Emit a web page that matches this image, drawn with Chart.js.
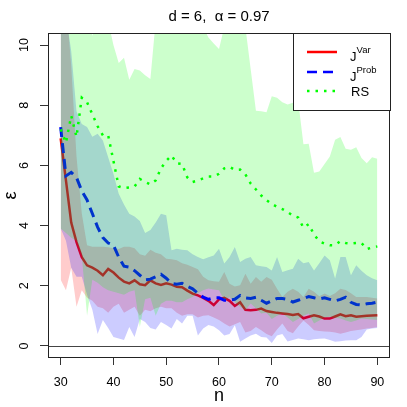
<!DOCTYPE html>
<html>
<head>
<meta charset="utf-8">
<script src="https://cdn.jsdelivr.net/npm/chart.js@4.4.1/dist/chart.umd.min.js"></script>
<style>
  html, body { margin: 0; padding: 0; background: #fff; }
  canvas { display: block; }
</style>
</head>
<body>
<canvas id="chart" width="407" height="407"></canvas>
<script>
// sample sizes n
const nValues = [30, 31, 32, 33, 34, 35, 36, 37, 38, 39,
                 40, 41, 42, 43, 44, 45, 46, 47, 48, 49,
                 50, 51, 52, 53, 54, 55, 56, 57, 58, 59,
                 60, 61, 62, 63, 64, 65, 66, 67, 68, 69,
                 70, 71, 72, 73, 74, 75, 76, 77, 78, 79,
                 80, 81, 82, 83, 84, 85, 86, 87, 88, 89, 90];

// J^Var: mean line + band
const jVar = [6.9, 5.5, 4.1, 3.45, 2.95, 2.68, 2.6, 2.5, 2.35, 2.56,
              2.44, 2.27, 2.14, 2.08, 2.18, 2.05, 2.02, 2.18, 2.08, 2.03,
              2.08, 2.04, 1.97, 1.95, 1.84, 1.74, 1.68, 1.6, 1.5, 1.36,
              1.55, 1.6, 1.5, 1.33, 1.45, 1.2, 1.19, 1.2, 1.24, 1.16,
              1.13, 1.1, 1.08, 1.06, 1.03, 1.06, 0.92, 0.97, 1.02, 0.98,
              0.91, 0.91, 0.98, 1.05, 0.99, 1.02, 0.97, 0.99, 1.0, 1.01, 1.02];
const jVarHi = [12, 11.5, 9.3, 6.3, 4.4, 3.35, 3.3, 3.3, 3.3, 3.28,
                3.25, 3.22, 3.3, 3.3, 3.25, 3.05, 3.0, 3.2, 3.1, 3.05,
                2.9, 2.88, 2.85, 2.75, 2.7, 2.62, 2.55, 2.3, 2.18, 2.15,
                2.13, 2.46, 2.07, 1.98, 2.02, 2.4, 2.07, 2.29, 2.13, 2.29,
                2.2, 1.9, 1.63, 1.8, 1.9, 1.8, 1.63, 1.9, 1.8, 1.65,
                1.74, 1.66, 1.75, 1.9, 1.86, 1.75, 1.63, 1.63, 1.63, 1.6, 1.58];
const jVarLo = [2.2, 1.85, 2.6, 1.3, 1.85, 1.6, 1.5, 1.3, 1.25, 1.1,
                1.3, 1.4, 1.1, 1.2, 1.3, 1.0, 1.2, 1.15, 1.25, 1.3,
                1.25, 1.25, 1.1, 1.0, 1.05, 1.05, 0.95, 1.0, 1.02, 0.95,
                0.86, 0.75, 0.65, 0.72, 0.8, 0.45, 0.5, 0.63, 0.52, 0.4,
                0.32, 0.55, 0.75, 0.5, 0.42, 0.65, 0.85, 0.7, 0.52, 0.5,
                0.48, 0.47, 0.45, 0.41, 0.45, 0.5, 0.52, 0.55, 0.58, 0.6, 0.63];

// J^Prob
const jProb = [7.27, 5.65, 5.77, 5.6, 5.15, 4.85, 4.4, 3.95, 3.6, 3.42,
               3.35, 2.95, 2.65, 2.62, 2.5, 2.35, 2.2, 2.22, 2.3, 2.38,
               2.25, 2.08, 2.05, 2.08, 1.98, 1.9, 1.75, 1.62, 1.55, 1.6,
               1.6, 1.52, 1.52, 1.55, 1.68, 1.6, 1.58, 1.62, 1.52, 1.42,
               1.5, 1.58, 1.58, 1.55, 1.46, 1.52, 1.58, 1.64, 1.6, 1.56,
               1.6, 1.55, 1.5, 1.55, 1.62, 1.45, 1.38, 1.36, 1.4, 1.42, 1.46];
const jProbHi = [12, 11, 9.8, 7.8, 7.38, 7.28, 6.95, 7.05, 6.83, 6.27,
                 5.72, 5.06, 4.7, 4.39, 4.3, 4.15, 3.75, 3.85, 4.1, 4.39,
                 4.34, 3.18, 3.23, 3.2, 3.18, 3.05, 2.96, 2.88, 2.95, 3.01,
                 3.23, 2.74, 2.96, 3.29, 2.79, 2.9, 2.96, 2.68, 2.65, 2.62,
                 2.51, 2.96, 2.46, 2.52, 2.57, 2.9, 2.75, 2.79, 2.51, 2.75,
                 3.01, 2.85, 2.24, 2.96, 2.96, 2.35, 2.68, 2.5, 2.35, 2.25, 2.18];
const jProbLo = [3.9, 3.5, 2.6, 2.3, 2.3, 1.7, 1.2, 0.4, 0.86, 0.6,
                 0.3, 0.25, 0.2, 0.63, 0.3, 0.9, 0.8, 0.6, 0.55, 0.8,
                 0.7, 0.58, 0.9, 0.75, 1.0, 1.0, 0.35, 0.58, 0.7, 0.65,
                 0.52, 0.35, 0.4, 0.69, 0.14, 0.25, 0.35, 0.41, 0.3, 0.28,
                 0.1, 0.35, 0.4, 0.15, 0.2, 0.25, 0.22, 0.19, 0.22, 0.24,
                 0.25, 0.2, 0.14, 0.16, 0.18, 0.19, 0.19, 0.3, 0.55, 0.58, 0.6];

// RS
const rs = [7.2, 6.75, 7.65, 6.95, 8.25, 8.1, 7.7, 7.3, 7.0, 7.0,
            6.15, 5.3, 5.25, 5.27, 5.3, 5.55, 5.45, 5.37, 5.5, 5.9,
            6.15, 6.33, 6.07, 6.05, 5.6, 5.45, 5.5, 5.57, 5.63, 5.63,
            5.72, 5.9, 5.95, 5.85, 5.86, 5.7, 5.4, 5.2, 5.0, 4.85,
            4.72, 4.62, 4.55, 4.45, 4.33, 4.27, 3.93, 4.05, 3.7, 3.48,
            3.4, 3.35, 3.35, 3.48, 3.42, 3.4, 3.42, 3.42, 3.22, 3.27, 3.31];
const rsHi = [14, 13.5, 13, 12.5, 12, 11.5, 10.3, 11, 11.5, 10.8,
              10.0, 9.4, 9.58, 8.85, 9.2, 9.15, 9.0, 8.87, 10.8, 11.5,
              12, 12, 11.5, 11.5, 12, 11.5, 11, 10.6, 10.25, 10.05,
              9.87, 10.6, 11, 11.5, 11, 10.6, 9.2, 7.82, 7.8, 7.77,
              8.3, 8.25, 8.1, 8.02, 8.08, 8.15, 6.7, 6.72, 5.76, 5.8,
              6.05, 6.3, 6.85, 6.94, 6.55, 6.52, 6.6, 6.25, 6.07, 6.27, 6.22];
const rsLo = [3.9, 3.75, 3.6, 3.5, 3.0, 1.0, 2.2, 2.1, 1.95, 1.85,
              1.8, 1.75, 1.7, 1.8, 1.85, 0.63, 1.55, 1.6, 1.0, 1.4,
              1.5, 1.5, 1.45, 1.45, 1.55, 1.63, 1.75, 1.85, 1.91, 1.88,
              1.85, 1.52, 1.63, 1.45, 1.3, 1.19, 1.41, 1.25, 1.08, 1.1,
              0.9, 1.0, 1.08, 0.95, 0.8, 0.9, 1.0, 1.08, 0.75, 0.85,
              0.95, 0.97, 0.93, 0.91, 0.85, 0.8, 0.85, 0.91, 0.9, 0.88, 0.86];

const xTicks = [30, 40, 50, 60, 70, 80, 90];
const yTicks = [0, 2, 4, 6, 8, 10];

const FONT = "'Liberation Sans', Arimo, Arial, sans-serif";
Chart.defaults.font.family = FONT;

function pts(arr) {
    return nValues.map((n, i) => ({ x: n, y: arr[i] }));
}

// band = upper bound filled down to the next dataset (lower bound)
function band(hi, lo, color, order) {
    return [
        { data: pts(hi), fill: '+1', backgroundColor: color, borderColor: 'transparent',
          borderWidth: 0, pointRadius: 0, order: order },
        { data: pts(lo), fill: false, borderColor: 'transparent',
          borderWidth: 0, pointRadius: 0, order: order + 1 }
    ];
}

function line(arr, color, dash, width, order) {
    return { data: pts(arr), fill: false, borderColor: color, borderWidth: width,
             borderDash: dash, borderCapStyle: 'butt', pointRadius: 0, tension: 0, order: order };
}

// R-ish decorations: box, h=0 line, rotated y labels, titles, legend
const rDecor = {
    id: 'rDecor',
    afterDatasetsDraw(chart) {
        const ctx = chart.ctx, a = chart.chartArea, ys = chart.scales.y;
        ctx.save();
        ctx.strokeStyle = '#444';
        ctx.lineWidth = 1;
        const y0 = Math.round(ys.getPixelForValue(0)) + 0.5;
        ctx.beginPath();
        ctx.moveTo(a.left, y0);
        ctx.lineTo(a.right, y0);
        ctx.stroke();
        ctx.restore();
    },
    afterDraw(chart) {
        const ctx = chart.ctx, a = chart.chartArea, ys = chart.scales.y;
        ctx.save();
        // box
        ctx.strokeStyle = '#222';
        ctx.lineWidth = 1;
        ctx.strokeRect(Math.round(a.left) + 0.5, Math.round(a.top) + 0.5,
                       Math.round(a.right - a.left) - 1, Math.round(a.bottom - a.top) - 1);

        // y tick labels, rotated like R
        ctx.fillStyle = '#000';
        ctx.font = '12.5px ' + FONT;
        ctx.textAlign = 'center';
        ctx.textBaseline = 'middle';
        yTicks.forEach(v => {
            ctx.save();
            ctx.translate(25, ys.getPixelForValue(v));
            ctx.rotate(-Math.PI / 2);
            ctx.fillText(String(v), 0, 0);
            ctx.restore();
        });

        // axis titles
        ctx.font = '18px ' + FONT;
        ctx.save();
        ctx.translate(11, (a.top + a.bottom) / 2);
        ctx.rotate(-Math.PI / 2);
        ctx.fillText('\u03b5', 0, 0);
        ctx.restore();
        ctx.textBaseline = 'alphabetic';
        ctx.fillText('n', (a.left + a.right) / 2, 401);

        // main title
        ctx.font = '15px ' + FONT;
        ctx.fillText('d = 6,  \u03b1 = 0.97', (a.left + a.right) / 2, 21);

        // legend
        const lx = Math.round(a.right - 97) + 0.5, ly = Math.round(a.top) + 0.5;
        ctx.fillStyle = '#fff';
        ctx.fillRect(lx, ly, 97, 77);
        ctx.strokeStyle = '#222';
        ctx.strokeRect(lx, ly, 97, 77);
        const entries = [
            { y: 52, color: '#ff0000', dash: [], base: 'J', sup: 'Var' },
            { y: 72, color: '#0000ff', dash: [10, 6], base: 'J', sup: 'Prob' },
            { y: 91, color: '#00ff00', dash: [2.5, 6], base: 'RS', sup: '' }
        ];
        entries.forEach(e => {
            ctx.strokeStyle = e.color;
            ctx.lineWidth = 2.5;
            ctx.setLineDash(e.dash);
            ctx.beginPath();
            ctx.moveTo(307, e.y);
            ctx.lineTo(337, e.y);
            ctx.stroke();
            ctx.setLineDash([]);
            ctx.fillStyle = '#000';
            ctx.textAlign = 'left';
            ctx.textBaseline = 'alphabetic';
            ctx.font = '13px ' + FONT;
            if (e.sup) {
                ctx.fillText(e.base, 350, e.y + 8.5);
                const w = ctx.measureText(e.base).width;
                ctx.font = '9.5px ' + FONT;
                ctx.fillText(e.sup, 350 + w, e.y + 0.5);
            } else {
                ctx.fillText(e.base, 351, e.y + 5);
            }
        });
        ctx.restore();
    }
};

new Chart(document.getElementById('chart'), {
    type: 'line',
    data: {
        datasets: [
            ...band(jVarHi, jVarLo, 'rgba(255,0,0,0.2)', 60),
            line(jVar, '#ff0000', [], 2.5, 50),
            ...band(jProbHi, jProbLo, 'rgba(0,0,255,0.2)', 40),
            line(jProb, '#0000ff', [10, 6], 3, 30),
            ...band(rsHi, rsLo, 'rgba(0,255,0,0.2)', 20),
            line(rs, '#00ff00', [2.5, 6], 2.5, 10)
        ]
    },
    options: {
        responsive: false,
        animation: false,
        layout: { padding: { left: 0, top: 33, right: 17, bottom: 0 } },
        plugins: { legend: { display: false }, tooltip: { enabled: false }, title: { display: false } },
        scales: {
            x: {
                type: 'linear',
                min: 27.6,
                max: 92.4,
                afterBuildTicks: s => { s.ticks = xTicks.map(v => ({ value: v })); },
                afterFit: s => { s.height = 49; },
                grid: { drawOnChartArea: false, tickLength: 7, color: '#333' },
                border: { display: false },
                ticks: { color: '#000', font: { size: 12.5 }, padding: 10, maxRotation: 0 }
            },
            y: {
                min: -0.4,
                max: 10.4,
                afterBuildTicks: s => { s.ticks = yTicks.map(v => ({ value: v })); },
                afterFit: s => { s.width = 48; },
                grid: { drawOnChartArea: false, tickLength: 8, color: '#333' },
                border: { display: false },
                ticks: { display: false }
            }
        }
    },
    plugins: [rDecor]
});
</script>
</body>
</html>
